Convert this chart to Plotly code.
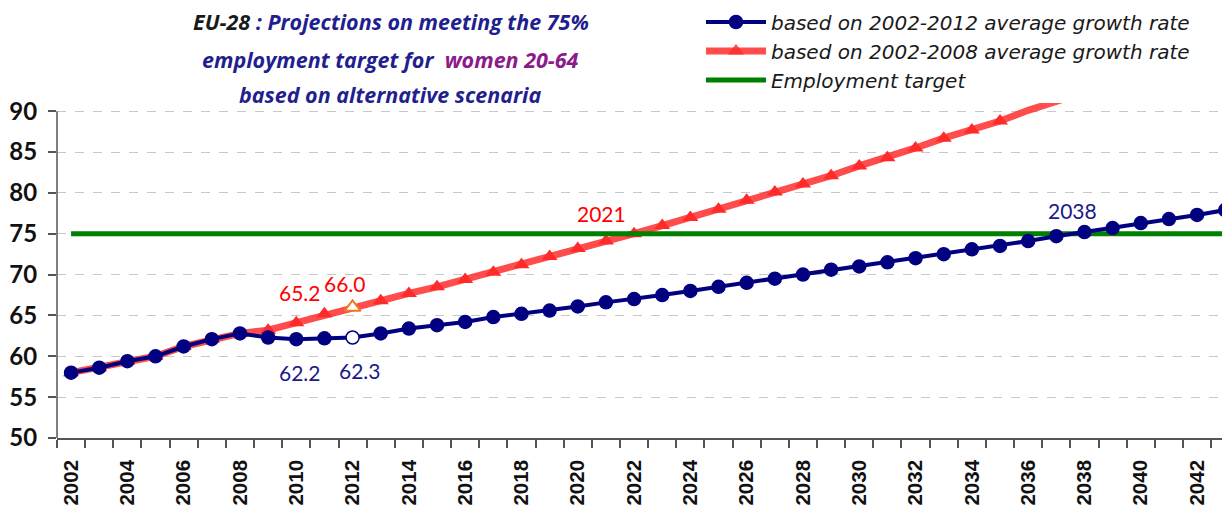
import plotly.graph_objects as go

years = list(range(2002, 2044))

blue_2002_2012 = [58.0, 58.6, 59.4, 60.0, 61.2, 62.1, 62.8, 62.3, 62.1, 62.2, 62.3,
                  62.8, 63.4, 63.8, 64.2, 64.8, 65.2, 65.6, 66.1, 66.6, 67.0,
                  67.5, 68.0, 68.5, 69.0, 69.5, 70.0, 70.6, 71.0, 71.5, 72.0,
                  72.5, 73.1, 73.5, 74.1, 74.7, 75.2, 75.7, 76.3, 76.8, 77.3, 77.9]

red_2002_2008 = [58.0, 58.6, 59.4, 60.0, 61.2, 62.1, 62.8, 63.2, 64.1, 65.2, 66.0,
                 66.8, 67.7, 68.5, 69.4, 70.3, 71.2, 72.2, 73.2, 74.1, 75.0,
                 76.0, 77.0, 78.0, 79.1, 80.1, 81.1, 82.1, 83.3, 84.3, 85.5,
                 86.7, 87.7, 88.8, 90.1, 91.2, 92.3, 93.4, 94.5, 95.6, 96.7, 97.8]

target = [75.0] * len(years)

y_ticks = [50, 55, 60, 65, 70, 75, 80, 85, 90]
x_tick_years = list(range(2002, 2043, 2))
x_tick_text = [str(y) for y in x_tick_years]

highlight_year = 2012
y_max_shown = 90

NAVY = "#000080"
RED = "#ff2a2a"
GREEN = "#008000"

fig = go.Figure()

# red scenario
red_colors = ["white" if y == highlight_year else RED for y in years]
red_line_colors = ["#f07820" if y == highlight_year else RED for y in years]
red_line_widths = [2 if y == highlight_year else 0 for y in years]
red_opacity = [1 if v <= y_max_shown else 0 for v in red_2002_2008]
fig.add_trace(go.Scatter(
    x=years, y=red_2002_2008, mode="lines+markers",
    name="based on 2002-2008 average growth rate",
    line=dict(color="rgba(255,45,45,0.85)", width=7),
    marker=dict(symbol="triangle-up", size=14, color=red_colors,
                opacity=red_opacity,
                line=dict(color=red_line_colors, width=red_line_widths)),
    cliponaxis=True,
))

# target
fig.add_trace(go.Scatter(
    x=years, y=target, mode="lines", name="Employment target",
    line=dict(color=GREEN, width=5),
))

# blue scenario
blue_colors = ["white" if y == highlight_year else NAVY for y in years]
fig.add_trace(go.Scatter(
    x=years, y=blue_2002_2012, mode="lines+markers",
    name="based on 2002-2012 average growth rate",
    line=dict(color=NAVY, width=4),
    marker=dict(symbol="circle", size=13, color=blue_colors,
                line=dict(color=NAVY, width=1.5)),
    cliponaxis=False,
))

# legend order: blue, red, green
fig.data[2].legendrank = 1
fig.data[0].legendrank = 2
fig.data[1].legendrank = 3

ann_font = "Lato, Carlito, 'Open Sans', sans-serif"
annotations = [
    dict(x=2010.13, y=67.86, text="65.2", color="#ff0000"),
    dict(x=2011.73, y=68.96, text="66.0", color="#ff0000"),
    dict(x=2010.13, y=58.07, text="62.2", color="#1a1a8a"),
    dict(x=2012.26, y=58.32, text="62.3", color="#1a1a8a"),
    dict(x=2020.83, y=77.5, text="2021", color="#ff0000"),
    dict(x=2037.56, y=77.9, text="2038", color="#1a1a8a"),
]
for a in annotations:
    fig.add_annotation(x=a["x"], y=a["y"], xref="x", yref="y", text=a["text"],
                       showarrow=False, font=dict(family=ann_font, size=21, color=a["color"]))

title_font = "'Open Sans', Lato, sans-serif"
title_lines = [
    ('<b><i><span style="color:#1a1a1a">EU-28</span> : Projections on meeting the 75%</i></b>', 1.2418),
    ('<b><i>employment target for  <span style="color:#8b1a8b">women 20-64</span></i></b>', 1.1313),
    ('<b><i>based on alternative scenaria</i></b>', 1.0239),
]
for t, yp in title_lines:
    fig.add_annotation(x=0.2847, y=yp, xref="paper", yref="paper", text=t, showarrow=False,
                       xanchor="center", yanchor="middle",
                       font=dict(family=title_font, size=21.5, color="#1f1f8f"))

# y axis line (only up to 90)
fig.add_shape(type="line", xref="paper", yref="y", x0=0, x1=0, y0=50, y1=90,
              line=dict(color="#555555", width=1.5))

# page body has an 8px margin; figure is sized to fill the remaining window
fig.update_layout(
    width=1222, height=500,
    margin=dict(l=49, r=0, t=95, b=70, autoexpand=False),
    paper_bgcolor="white", plot_bgcolor="white",
    showlegend=True,
    legend=dict(x=0.549, y=1.3, xanchor="left", yanchor="top",
                font=dict(family="'DejaVu Sans', sans-serif", size=20, color="#1a1a1a",
                          style="italic"),
                bgcolor="rgba(0,0,0,0)", tracegroupgap=0, itemwidth=60,
                traceorder="normal"),
    xaxis=dict(range=[2001.5, 2043.17], tickmode="array", tickvals=x_tick_years,
               ticktext=x_tick_text, tickangle=-90, ticks="", showgrid=False,
               zeroline=False, showline=True, linecolor="#555555", linewidth=1.5,
               ticklabelstandoff=12,
               tickfont=dict(family="'Liberation Sans', Arial, sans-serif", size=20.5,
                             color="#111111", weight="bold"),
               minor=dict(tick0=2001.5, dtick=1, ticks="outside", ticklen=8,
                          tickcolor="#555555", tickwidth=1.5, showgrid=False)),
    yaxis=dict(range=[50, 91.0], tickmode="array", tickvals=y_ticks, ticks="outside",
               ticklen=8, tickcolor="#555555", tickwidth=1.5, showline=False,
               zeroline=False, showgrid=True, gridcolor="#c8c8c8", griddash="dash",
               gridwidth=1.2, ticklabelstandoff=6,
               tickfont=dict(family=ann_font, size=24, color="#111111", weight="bold")),
)

fig.write_html("out.html")
